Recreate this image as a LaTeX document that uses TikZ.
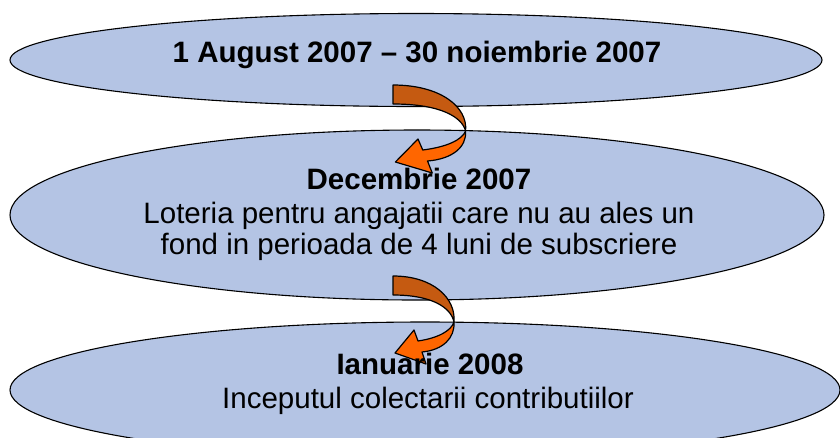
\documentclass[tikz,border=0pt]{standalone}
\usepackage{fontspec}
\setmainfont{Liberation Sans}
\usetikzlibrary{shapes.geometric,positioning}
\definecolor{stageblue}{RGB}{180,196,228}
\definecolor{turndark}{RGB}{197,90,17}
\definecolor{turnlight}{RGB}{255,102,0}

\begin{document}
\begin{tikzpicture}[x=1pt, y=-1pt]

    % Styles
    \tikzset{
        stage/.style={ellipse, draw=black, line width=1.1pt, fill=stageblue, inner sep=0pt},
        title/.style={anchor=base, font=\fontsize{29.5}{33}\selectfont\bfseries},
        line/.style={anchor=base, font=\fontsize{29.5}{33}\selectfont},
        back/.style={fill=turndark, draw=black, line width=1.2pt, line join=round},
        front/.style={fill=turnlight, draw=black, line width=1.2pt, line join=round},
        turnarrow/.pic={
            % back side of the band, tail to the twist
            \filldraw[back] (0,0) .. controls (40,0) and (63,22) .. (61,46)
                .. controls (58,32) and (40,19) .. (0,19) -- cycle;
            % front side of the band with the head
            \filldraw[front] (61,46) .. controls (62,62) and (50,74) .. (29,76)
                -- (33,88) -- (2,77) -- (21,54) -- (25,65)
                .. controls (45,62) and (58,55) .. (61,46) -- cycle;
        }
    }

    \useasboundingbox (0,0) rectangle (840,437);

    % Stages
    \node[stage, minimum width=812pt, minimum height=93pt] (aug) at (416,60) {};
    \node[stage, minimum width=814pt, minimum height=170pt] (dec) at (417,215) {};
    \node[stage, minimum width=830pt, minimum height=136pt] (ian) at (425,390) {};

    % Turning arrows between stages
    \pic[xscale=1.19] at (393,85) {turnarrow};
    \pic at (393,276) {turnarrow};

    % Texts
    \node[title] (augT) at (417,62) {1 August 2007 – 30 noiembrie 2007};

    \node[title] (decT) at (419,189) {Decembrie 2007};
    \node[line] (decA) at (419,223) {Loteria pentru angajatii care nu au ales un};
    \node[line] (decB) at (419,254) {fond in perioada de 4 luni de subscriere};

    \node[title] (ianT) at (430,374) {Ianuarie 2008};
    \node[line] (ianA) at (428,408) {Inceputul colectarii contributiilor};

\end{tikzpicture}
\end{document}
